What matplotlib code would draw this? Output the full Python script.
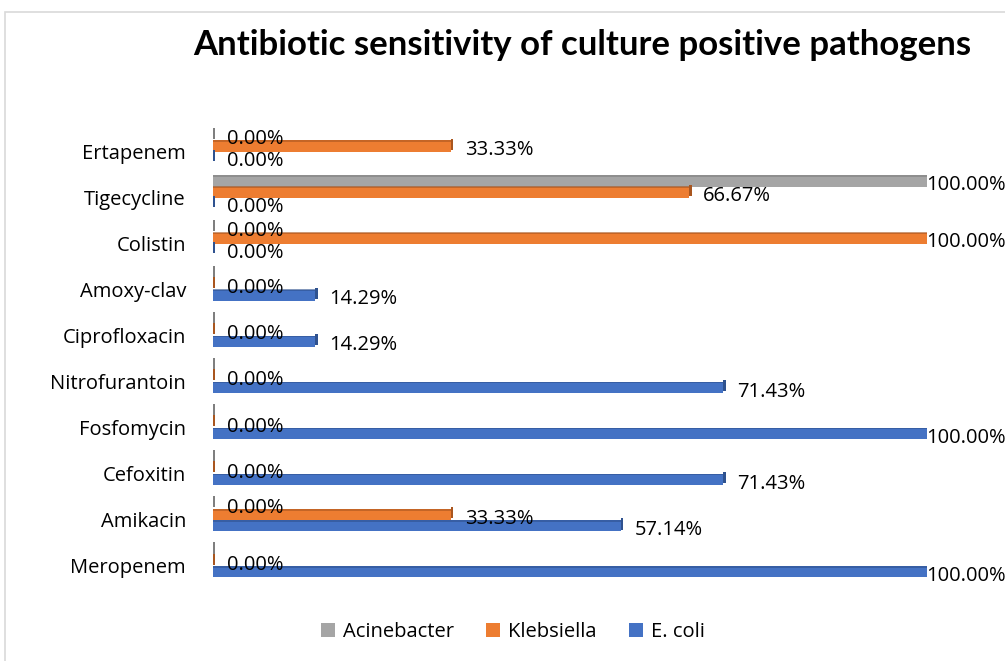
import numpy as np
import matplotlib
matplotlib.use("Agg")
import matplotlib.pyplot as plt
from matplotlib.patches import Rectangle

# Data (bottom to top)
drugs = ["Meropenem", "Amikacin", "Cefoxitin", "Fosfomycin", "Nitrofurantoin",
         "Ciprofloxacin", "Amoxy-clav", "Colistin", "Tigecycline", "Ertapenem"]
acinebacter = [0, 0, 0, 0, 0, 0, 0, 0, 100, 0]
klebsiella = [0, 33.33, 0, 0, 0, 0, 0, 100, 66.67, 33.33]
ecoli = [100, 57.14, 71.43, 100, 71.43, 14.29, 14.29, 0, 0, 0]
# which labels Excel actually showed
acin_shown = [False, True, False, False, False, False, False, True, True, True]

series = ["Acinebacter", "Klebsiella", "E. coli"]
colors = ["#A5A5A5", "#ED7D31", "#4472C4"]
dark = ["#7F7F7F", "#A9561F", "#2F528F"]

plt.rcParams["font.family"] = ["Open Sans", "DejaVu Sans"]
fs = 14.5

fig = plt.figure(figsize=(10.05, 6.61), dpi=100)
ax = fig.add_axes([213 / 1005, 1 - 589 / 661, (927 - 213) / 1005, (589 - 128) / 661])

# chart frame
fig.patches.append(Rectangle((4.5 / 1005, -0.05), 1.2, 1 - 12 / 661 + 0.05,
                             transform=fig.transFigure, fill=False,
                             edgecolor="#D9D9D9", linewidth=1.2))

y = np.arange(len(drugs))
h = 0.24
offsets = [0.35, 0.11, -0.13]
data = [acinebacter, klebsiella, ecoli]

for k in range(3):
    vals = np.array(data[k])
    yy = y + offsets[k]
    ax.barh(yy, vals, height=h, color=colors[k], label=series[k], zorder=2)
    # fake 3D side face
    ax.barh(yy + 0.04, 0.35, left=vals, height=h, color=dark[k], zorder=3)
    ax.barh(yy + h / 2 - 0.01, vals, height=0.035, color=dark[k], alpha=0.6, zorder=3)
    for i, v in enumerate(vals):
        if k == 0 and not acin_shown[i]:
            continue
        dx = -1 if v >= 100 else 14
        ax.annotate(f"{v:.2f}%", (v, yy[i]), xytext=(dx, -4),
                    textcoords="offset pixels", va="center", ha="left",
                    fontsize=fs, color="#000000", zorder=4,
                    annotation_clip=False)

ax.set_xlim(0, 100)
ax.set_ylim(-0.5, len(drugs) - 0.5)
ax.set_yticks(y)
ax.set_yticklabels(drugs, fontsize=fs)
ax.tick_params(axis="y", length=0, pad=19.5)
ax.set_xticks([])
for s in ax.spines.values():
    s.set_visible(False)

fig.text(582 / 1005, 1 - 45 / 661, "Antibiotic sensitivity of culture positive pathogens",
         ha="center", va="center", fontsize=25, fontweight="bold",
         family=["Lato", "DejaVu Sans"])

handles, labels = ax.get_legend_handles_labels()
fig.legend(handles, labels, loc="center", bbox_to_anchor=(513 / 1005, 1 - 632 / 661),
           ncol=3, frameon=False, fontsize=fs, handlelength=0.7, handleheight=0.7,
           columnspacing=1.6, handletextpad=0.4)

fig.savefig("out.png", dpi=100)
